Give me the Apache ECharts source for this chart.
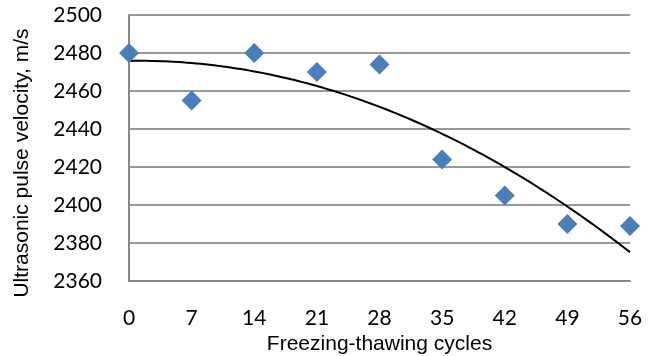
<!DOCTYPE html>
<html><head><meta charset="utf-8">
<script src="https://cdn.jsdelivr.net/npm/echarts@6/dist/echarts.min.js"></script>
<style>html,body{margin:0;padding:0;background:#fff}#c{width:654px;height:356px}</style>
</head><body><div id="c"></div>
<script>
const cycles = [0, 7, 14, 21, 28, 35, 42, 49, 56];
const velocity = [2480, 2455, 2480, 2470, 2474, 2424, 2405, 2390, 2389];
const yTicks = [2360, 2380, 2400, 2420, 2440, 2460, 2480, 2500];
const xTitle = 'Freezing-thawing cycles';
const yTitle = 'Ultrasonic pulse velocity, m/s';

// Least-squares quadratic trendline computed from the data
function quadFit(xs, ys) {
  let S = [0,0,0,0,0], T = [0,0,0];
  xs.forEach((x, i) => {
    let p = 1;
    for (let k = 0; k < 5; k++) { S[k] += p; if (k < 3) T[k] += p * ys[i]; p *= x; }
  });
  const M = [[S[0],S[1],S[2],T[0]],[S[1],S[2],S[3],T[1]],[S[2],S[3],S[4],T[2]]];
  for (let i = 0; i < 3; i++) {
    for (let j = i + 1; j < 3; j++) {
      const f = M[j][i] / M[i][i];
      for (let k = i; k < 4; k++) M[j][k] -= f * M[i][k];
    }
  }
  const c = [0,0,0];
  for (let i = 2; i >= 0; i--) {
    let s = M[i][3];
    for (let k = i + 1; k < 3; k++) s -= M[i][k] * c[k];
    c[i] = s / M[i][i];
  }
  return c;
}
const coef = quadFit(cycles, velocity);
const xMin = cycles[0], xMax = cycles[cycles.length - 1];
const trend = [];
for (let x = xMin; x <= xMax + 1e-9; x += 0.5) trend.push([x, coef[0] + coef[1] * x + coef[2] * x * x]);

const chart = echarts.init(document.getElementById('c'), null, {renderer: 'canvas'});
chart.setOption({
  animation: false,
  grid: {left: 129, right: 24, top: 15, bottom: 75, containLabel: false, outerBoundsMode: 'none'},
  xAxis: {
    type: 'value', min: xMin, max: xMax, interval: 7,
    name: xTitle, nameLocation: 'middle', nameGap: 51,
    nameTextStyle: {fontFamily: 'Liberation Sans', fontSize: 21, color: '#000'},
    axisLine: {show: true, lineStyle: {color: '#888', width: 2}},
    axisTick: {show: false},
    splitLine: {show: false},
    axisLabel: {fontFamily: 'Lato', fontSize: 21, color: '#000', margin: 27, formatter: v => String(v)}
  },
  yAxis: {
    type: 'value', min: yTicks[0], max: yTicks[yTicks.length - 1], interval: 20,
    name: yTitle, nameLocation: 'middle', nameGap: 96, nameRotate: 90,
    nameTextStyle: {fontFamily: 'Liberation Sans', fontSize: 21, color: '#000', padding: [0, 30, 0, 0]},
    axisLine: {show: true, lineStyle: {color: '#888', width: 2}},
    axisTick: {show: false},
    splitLine: {show: true, lineStyle: {color: '#999', width: 2}},
    axisLabel: {fontFamily: 'Lato', fontSize: 21, color: '#000', margin: 27, formatter: v => String(v)}
  },
  series: [
    {
      type: 'line', data: trend, showSymbol: false, symbol: 'none', smooth: false,
      lineStyle: {color: '#000', width: 2}, z: 2
    },
    {
      type: 'scatter', data: cycles.map((x, i) => [x, velocity[i]]),
      symbol: 'diamond', symbolSize: 20,
      itemStyle: {color: '#4A7EBB', opacity: 1}, z: 3
    }
  ]
});
</script></body></html>
